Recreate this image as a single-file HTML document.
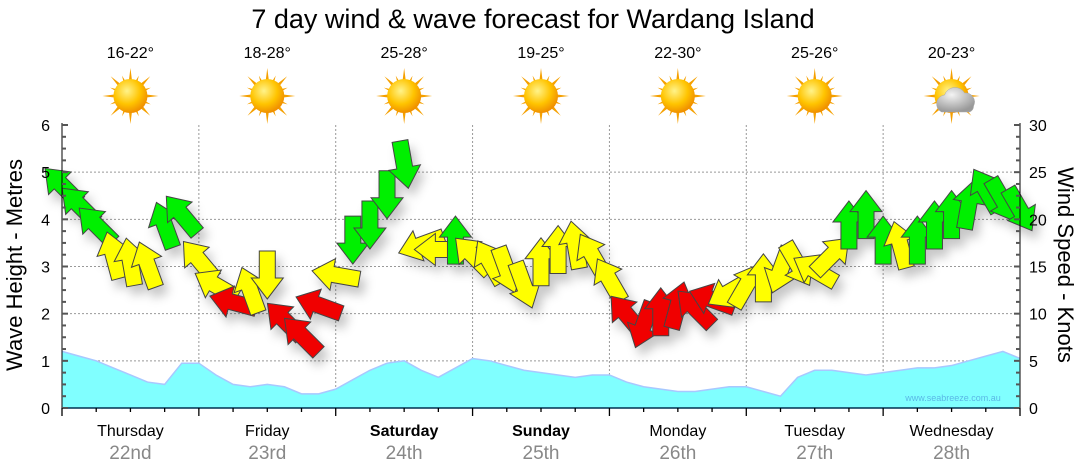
<!DOCTYPE html>
<html><head><meta charset="utf-8"><style>
body{margin:0;background:#fff;width:1080px;height:475px;overflow:hidden;font-family:"Liberation Sans","DejaVu Sans",sans-serif}
svg{display:block}
</style></head><body>
<svg id="chart" width="1080" height="475" viewBox="0 0 1080 475">
<defs>
<filter id="sh" x="-50%" y="-50%" width="200%" height="200%"><feDropShadow dx="5" dy="8" stdDeviation="5" flood-color="#000" flood-opacity="0.22"/></filter>
<radialGradient id="sunG" cx="40%" cy="35%" r="65%"><stop offset="0" stop-color="#fff38a"/><stop offset="0.6" stop-color="#ffc400"/><stop offset="1" stop-color="#f09000"/></radialGradient>
<radialGradient id="cloudG" cx="40%" cy="30%" r="70%"><stop offset="0" stop-color="#f4f4f4"/><stop offset="1" stop-color="#999"/></radialGradient>
</defs>
<text x="533" y="28" font-size="27" text-anchor="middle" fill="#000">7 day wind &amp; wave forecast for Wardang Island</text>
<g id="grid"></g>
<g id="wave"></g>
<g id="wind" filter="url(#sh)"></g>
<g id="axes"></g>
<g id="head"></g>
<text x="953" y="401" font-size="9" fill="#5ab8e6" text-anchor="middle">www.seabreeze.com.au</text>
<text transform="translate(22,265) rotate(-90)" font-size="22" text-anchor="middle">Wave Height - Metres</text>
<text transform="translate(1058,265) rotate(90)" font-size="22" text-anchor="middle">Wind Speed - Knots</text>
</svg>
<script>
const days=["Thursday","Friday","Saturday","Sunday","Monday","Tuesday","Wednesday"];
const dates=["22nd","23rd","24th","25th","26th","27th","28th"];
const temps=["16-22°","18-28°","25-28°","19-25°","22-30°","25-26°","20-23°"];
const boldDays=[false,false,true,true,false,false,false];
const cloudy=[false,false,false,false,false,false,true];
const waveTicks=[0,1,2,3,4,5,6];
const windTicks=[0,5,10,15,20,25,30];
const windSpeed=[23.6,21.5,19.4,16.2,15.5,15.2,19.4,20.5,
15.7,13,11.2,12.5,14.1,9.3,7.7,10.9,
14.1,17.8,19.4,22.6,25.8,17.3,16.8,17.8,
16.2,15.5,14.6,13,15.5,16.8,17.3,16.2,
13.6,9.9,8.8,10.2,10.9,10.6,11.5,12.3,
13,13.8,14.6,15.2,14.6,16.2,19.4,20.5,
17.8,17.3,17.8,19.4,20.5,21.5,23.1,22,21];
const windDir=[-45,-45,-45,-15,-10,-20,-20,-40,
-40,-60,-75,-20,180,-45,-45,-70,
-80,180,180,180,170,-110,-90,0,
-45,-30,160,160,0,0,-10,-30,
-30,-40,200,0,15,-45,-70,240,
30,0,200,150,300,45,0,0,
0,-15,0,0,0,10,-30,150,150];
const waveH=[1.2,1.1,1.0,0.85,0.7,0.55,0.5,0.95,
0.95,0.7,0.5,0.45,0.5,0.45,0.3,0.3,
0.4,0.6,0.8,0.95,1.0,0.8,0.65,0.85,
1.05,1.0,0.9,0.8,0.75,0.7,0.65,0.7,
0.7,0.55,0.45,0.4,0.35,0.35,0.4,0.45,
0.45,0.35,0.25,0.65,0.8,0.8,0.75,0.7,
0.75,0.8,0.85,0.85,0.9,1.0,1.1,1.2,1.05];

const NS="http://www.w3.org/2000/svg";
const X0=62,X1=1020,Y0=408,Y6=125,DW=(X1-X0)/7;
const xT=i=>X0+i*DW/8;
const yM=m=>Y0-(Y0-Y6)*m/6;
const yK=k=>Y0-(Y0-Y6)*k/30;
function mk(tag,attrs,parent){const e=document.createElementNS(NS,tag);for(const k in attrs)e.setAttribute(k,attrs[k]);parent.appendChild(e);return e;}
const grid=document.getElementById('grid'),axes=document.getElementById('axes'),head=document.getElementById('head');
waveTicks.forEach(t=>{if(t>0&&t<6){const l=mk('line',{x1:X0,x2:X1,y1:yM(t),y2:yM(t),stroke:'#999','stroke-dasharray':'2,2'},grid);

}});
for(let d=1;d<7;d++){const l=mk('line',{x1:X0+d*DW,x2:X0+d*DW,y1:Y6,y2:Y0,stroke:'#999','stroke-dasharray':'2,2'},grid);

}
let p=`M${xT(0)},${Y0}`;waveH.forEach((v,i)=>p+=`L${xT(i)},${yM(v)}`);p+=`L${xT(waveH.length-1)},${Y0}Z`;
const wa=mk('path',{d:p,fill:'#80ffff'},document.getElementById('wave'));


let pl='';waveH.forEach((v,i)=>pl+=(i?'L':'M')+xT(i)+','+yM(v));
const wl=mk('path',{d:pl,fill:'none',stroke:'#a8c8ff','stroke-width':1.5},document.getElementById('wave'));


const wind=document.getElementById('wind');
const arrowD="M-8,24 L8,24 L8,-3 L16,-3 L0,-24 L-16,-3 L-8,-3 Z";
windSpeed.forEach((s,i)=>{
 const col=s>=17.5?'#00f000':(s>=12?'#ffff00':'#f00000');
 const a=mk('path',{d:arrowD,fill:col,stroke:'#444','stroke-width':1,transform:`translate(${xT(i)},${yK(s)}) rotate(${windDir[i]})`},wind);
 
 
});
mk('line',{x1:X0,x2:X0,y1:Y6-2,y2:Y0,stroke:'#000'},axes);
mk('line',{x1:X1,x2:X1,y1:Y6-2,y2:Y0,stroke:'#000'},axes);
mk('line',{x1:X0,x2:X1,y1:Y0,y2:Y0,stroke:'#003050','stroke-width':1.5},axes);
for(let m=0;m<=24;m++){const y=Y0-(Y0-Y6)*m/24;const big=m%4==0;
 mk('line',{x1:X0,x2:X0+(big?6:4),y1:y,y2:y,stroke:'#555','stroke-width':2},axes);
 mk('line',{x1:X1,x2:X1-(big?6:4),y1:y,y2:y,stroke:'#555','stroke-width':2},axes);}
waveTicks.forEach(t=>{const e=mk('text',{x:50,y:yM(t)+6,'font-size':16,'text-anchor':'end'},axes);e.textContent=t;

});
windTicks.forEach(t=>{const e=mk('text',{x:1029,y:yK(t)+6,'font-size':16},axes);e.textContent=t;

});
for(let i=0;i<=28;i++){const x=X0+i*DW/4;mk('line',{x1:x,x2:x,y1:Y0,y2:Y0+(i%4==0?8:4),stroke:'#000','stroke-width':1.3},axes);}
days.forEach((d,i)=>{const cx=X0+DW*(i+0.5);
 const t=mk('text',{x:cx,y:436,'font-size':16,'text-anchor':'middle','font-weight':boldDays[i]?'bold':'normal'},head);t.textContent=d;
 
 
 const dt=mk('text',{x:cx,y:459,'font-size':19,'text-anchor':'middle',fill:'#888'},head);dt.textContent=dates[i];
 
 
 const tp=mk('text',{x:cx,y:58,'font-size':16,'text-anchor':'middle'},head);tp.textContent=temps[i];
 
 
 const g=mk('g',{transform:`translate(${cx},${96})`},head);
 
 
 for(let r=0;r<16;r++){const ang=r*22.5,L=r%2?22:28;mk('path',{d:`M-3.5,0 L0,-${L} L3.5,0Z`,fill:'#f5a000',transform:`rotate(${ang})`},g);}
 mk('circle',{r:17,fill:'url(#sunG)'},g);
 if(cloudy[i]){mk('path',{d:'M-10,16 A9,9 0 0 1 -7,-1 A11,11 0 0 1 13,-3 A9,9 0 0 1 22,10 A6,6 0 0 1 18,16 Z',fill:'url(#cloudG)',stroke:'#aaa','stroke-width':0.5},g);}
});
</script>
</body></html>
